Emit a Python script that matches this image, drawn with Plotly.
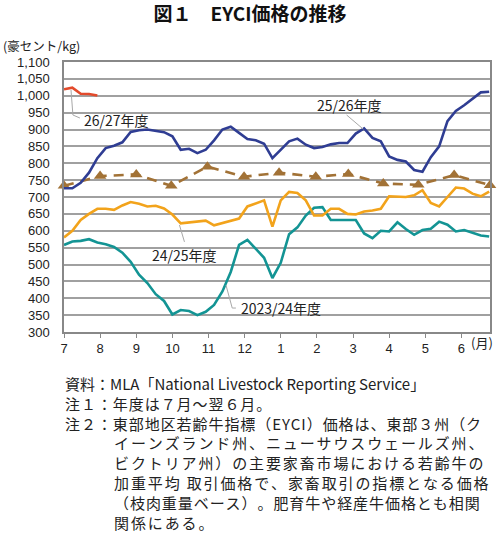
import plotly.graph_objects as go

# weekly EYCI price (AUc/kg), week 0 = start of July
weeks = list(range(52))

fy2023 = [558, 568, 570, 575, 565, 560, 552, 535, 508, 470, 445, 412, 392, 352,
          365, 362, 350, 360, 380, 420, 478, 558, 573, 545, 520, 460, 505, 590,
          610, 645, 668, 670, 632, 632, 632, 632, 592, 578, 600, 598, 625, 605,
          588, 602, 606, 627, 618, 598, 602, 595, 586, 583]

fy2024 = [580, 600, 632, 650, 665, 665, 662, 675, 685, 680, 672, 674, 666, 648,
          622, 624, 626, 630, 616, 622, 628, 636, 672, 680, 690, 612, 690, 715,
          712, 690, 645, 645, 665, 665, 650, 648, 657, 660, 665, 702, 702, 700,
          705, 720, 682, 672, 700, 728, 725, 710, 702, 716]

fy2025 = [726, 726, 742, 772, 815, 845, 852, 862, 893, 898, 900, 895, 892, 880,
          840, 843, 830, 840, 868, 900, 908, 890, 872, 868, 858, 815, 840, 865,
          873, 855, 845, 848, 856, 860, 860, 888, 903, 875, 865, 820, 810, 805,
          780, 775, 818, 850, 925, 955, 972, 990, 1010, 1012]

fy2026_weeks = [0, 1, 2, 3, 4]
fy2026 = [1019, 1024, 1006, 1005, 1001]

# dashed series with triangle markers
avg_weeks = [0, 4.33, 8.67, 12.87, 17.2, 21.6, 25.8, 30.2, 34.1, 38.3, 42.5, 46.8, 51.1]
avg_vals = [733, 762, 767, 733, 790, 760, 772, 760, 768, 740, 736, 765, 735]

month_labels = ["7", "8", "9", "10", "11", "12", "1", "2", "3", "4", "5", "6"]
month_ticks = [k * 52 / 12 for k in range(12)]

JP = "Noto Sans CJK JP"
GRID = "#a0a0a0"

fig = go.Figure()

fig.add_trace(go.Scatter(x=weeks, y=fy2023, mode="lines",
                         line=dict(color="#139494", width=2.6)))
fig.add_trace(go.Scatter(x=weeks, y=fy2024, mode="lines",
                         line=dict(color="#f2a31b", width=2.6)))
fig.add_trace(go.Scatter(x=avg_weeks, y=avg_vals, mode="lines+markers",
                         line=dict(color="#a27236", width=2.6, dash="10px,7px"),
                         marker=dict(symbol="triangle-up", size=11, color="#a27236"),
                         cliponaxis=False))
fig.add_trace(go.Scatter(x=weeks, y=fy2025, mode="lines",
                         line=dict(color="#2f3d93", width=2.6)))
fig.add_trace(go.Scatter(x=fy2026_weeks, y=fy2026, mode="lines",
                         line=dict(color="#e34a2b", width=2.6)))


# pixel helpers for paper placement (plot area: x 64..492, y 62..332)
def px(p):
    return (p - 64) / 428


def py(p):
    return (332 - p) / 270


def spread(text, n):
    # loosen Japanese text a little, like the justified original
    if n == 0:
        return text
    return ("\u200a" * n).join(text)


# series labels with leader lines (data coords)
labels = [
    ("26/27年度", 2.15, 928),
    ("25/26年度", 30.1, 973),
    ("24/25年度", 10.3, 528),
    ("2023/24年度", 21.0, 371),
]
leaders = [
    [(0.84, 1017), (1.07, 943), (1.91, 934)],
    [(33.9, 943), (35.9, 901)],
    [(14.45, 567), (13.85, 617)],
    [(19.43, 439), (20.18, 371), (20.62, 371)],
]
for pts in leaders:
    path = "M " + " L ".join(f"{x},{y}" for x, y in pts)
    fig.add_shape(type="path", path=path, xref="x", yref="y",
                  line=dict(color="#a8a8a8", width=1))
for text, x, y in labels:
    fig.add_annotation(text=text, x=x, y=y, xref="x", yref="y",
                       xanchor="left", yanchor="middle", showarrow=False,
                       font=dict(family=JP, size=14, color="#222"))

# axis unit labels
fig.add_annotation(text="(豪セント/kg)", x=px(1), y=py(45), xref="paper", yref="paper",
                   xanchor="left", yanchor="middle", showarrow=False,
                   font=dict(family=JP, size=12.5, color="#222"))
fig.add_annotation(text="(月)", x=px(497), y=py(342), xref="paper", yref="paper",
                   xanchor="right", yanchor="middle", showarrow=False,
                   font=dict(family=JP, size=13, color="#222"))

# notes below the chart: text, left px, centre px, letter loosening
notes = [
    ("資料：MLA「National Livestock Reporting Service」", 63, 383, 0),
    ("注１：年度は７月～翌６月。", 63, 403, 1),
    ("注２：東部地区若齢牛指標（EYCI）価格は、東部３州（ク", 63, 423, 1),
    ("イーンズランド州、ニューサウスウェールズ州、", 112, 443, 2),
    ("ビクトリア州）の主要家畜市場における若齢牛の", 112, 462, 2),
    ("加重平均 取引価格で、家畜取引の指標となる価格", 112, 482, 2),
    ("（枝肉重量ベース）。肥育牛や経産牛価格とも相関", 112, 502, 1),
    ("関係にある。", 112, 522, 2),
]
for text, x, y, loose in notes:
    fig.add_annotation(text=spread(text, loose),
                       x=px(x), y=py(y), xref="paper", yref="paper",
                       xanchor="left", yanchor="middle", showarrow=False,
                       font=dict(family=JP, size=15, color="#222"))

fig.update_layout(
    width=500,
    height=554,
    margin=dict(l=64, r=8, t=62, b=222),
    title=dict(text="<b>図１　EYCI価格の推移</b>", x=0.5, xanchor="center",
               y=1 - 14 / 554, yanchor="middle",
               font=dict(family=JP, size=19, color="#111")),
    showlegend=False,
    plot_bgcolor="white",
    paper_bgcolor="white",
    font=dict(family="Liberation Sans", size=13, color="#222"),
)

fig.update_xaxes(
    range=[0, 51.1],
    tickvals=month_ticks,
    ticktext=month_labels,
    ticks="outside", ticklen=4, tickcolor="#888", tickwidth=1.2,
    showgrid=False, zeroline=False,
    showline=True, linecolor="#888", linewidth=1.5, mirror=True,
    tickfont=dict(family="Liberation Sans", size=13),
)
fig.update_yaxes(
    range=[300, 1100],
    dtick=50,
    tickformat=",d",
    ticks="", ticklabelstandoff=10,
    showgrid=True, gridcolor=GRID, gridwidth=1.5, zeroline=False,
    showline=True, linecolor="#888", linewidth=1.5, mirror=True,
    tickfont=dict(family="Liberation Sans", size=13),
)

fig.write_html("out.html", config={"displayModeBar": False},
               post_script="document.body.style.margin='0';")
